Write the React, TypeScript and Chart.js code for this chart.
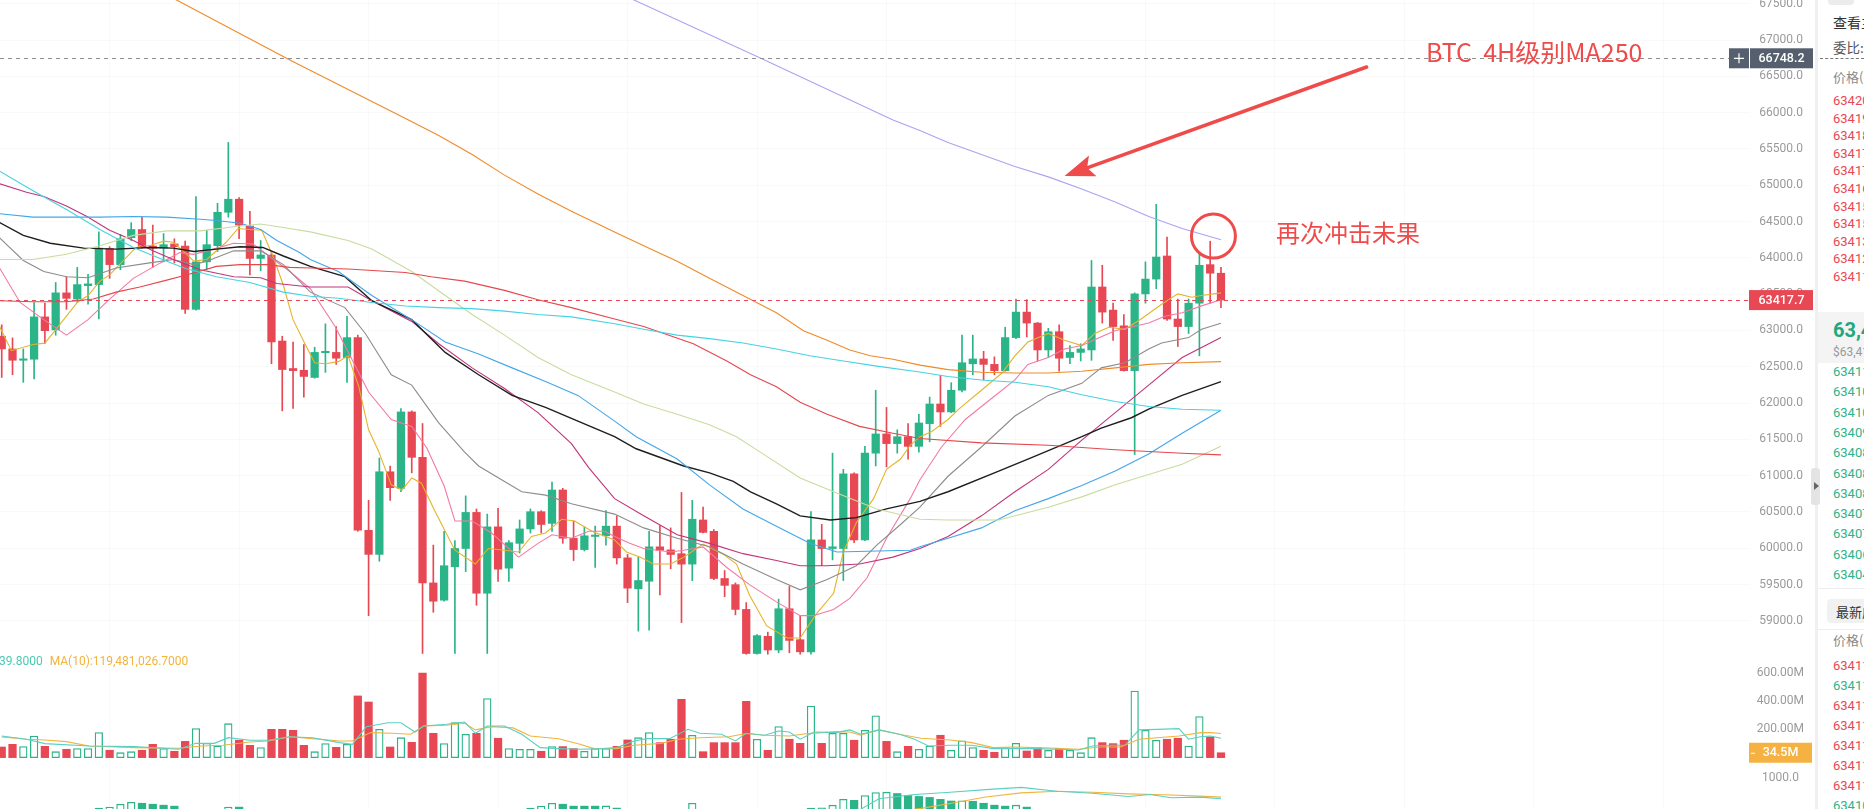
import React, { useEffect, useRef } from "react";
import { Chart, registerables } from "chart.js";

Chart.register(...registerables);

// ---------- candle data (4H BTC) ----------
const opens = [62920,62745,62589,62603,63186,63006,63517,63432,63617,63631,
64129,63906,64276,64390,64162,64134,64191,64162,63290,63944,
64167,64627,64807,64437,63991,64039,62854,62475,62451,62352,
62693,62697,62627,62901,60247,59915,61053,60825,61877,61252,
59522,59284,59744,59996,60493,59380,60294,59725,60067,60266,
60503,60342,60802,60138,59981,60162,60171,60304,59867,59441,
59545,60019,59977,59924,59781,60389,60233,59583,59498,59157,
58550,58787,58598,59166,58740,58573,60114,59996,59996,61024,
60114,61309,61574,61441,61536,61403,61716,61986,61877,62176,
62540,62607,62532,62446,62901,63252,63101,62731,62982,62627,
62697,62731,63598,63280,63063,62446,63503,63707,64025,63157,
63053,63375,63906,63788];
const highs = [63077,62897,62745,63385,63375,63660,63740,63868,63773,64357,
64153,64323,64485,64560,64451,64333,64262,64229,64845,64380,
64750,65589,64831,64641,64238,64072,62920,62840,62806,62768,
63091,63053,63195,62935,60659,61242,61133,61925,61892,61717,
60043,60233,60105,60721,60541,60470,60550,60105,60389,60541,
60517,60911,60825,60375,60294,60304,60517,60446,59915,59877,
60233,60313,60280,60768,60659,60565,60257,59693,59522,59251,
58811,58844,59299,59474,59071,60503,60328,61309,61086,61038,
61403,62176,61939,61631,61717,61843,62081,62380,62280,62935,
62935,62712,62636,63044,63432,63423,63110,63029,63077,62792,
62816,63963,63897,63375,63219,63517,63944,64736,64285,63432,
63432,64058,64229,63868];
const lows = [62352,62389,62285,62332,62822,62934,63290,63385,63361,63157,
63717,63835,64238,64134,63868,63944,63930,63233,63280,63835,
64086,64560,64262,63764,63821,62541,61892,61925,62081,62342,
62422,62531,62285,60233,59071,59821,60659,60778,61038,58550,
59118,59270,58550,59678,59214,58550,59544,59544,59934,60209,
60209,60233,60067,59830,59962,59735,60043,59782,59251,58858,
58872,59356,59716,58976,59554,60209,59568,59332,59082,58540,
58540,58540,58560,58560,58540,58540,59759,59839,59555,60076,
60105,61133,61119,61309,61228,61322,61465,61678,61868,62152,
62389,62319,62389,62437,62887,62910,62579,62626,62437,62541,
62579,62588,63101,62863,62437,61290,63375,63574,63138,62778,
62958,62650,63375,63314];
const closes = [62745,62589,62608,63186,62996,63517,63442,63631,63641,64134,
63906,64262,64390,64153,64134,64181,64153,63290,63944,64181,
64627,64807,64451,63991,64039,62840,62461,62446,62366,62697,
62712,62617,62901,60247,59915,61053,60834,61877,61252,59522,
59270,59759,59996,60493,59380,60294,59711,60076,60266,60503,
60327,60802,60138,59981,60171,60181,60304,59867,59450,59555,
60019,59972,59914,59781,60399,60218,59583,59488,59157,58550,
58796,58598,59166,58730,58573,60114,59996,60019,61024,60114,
61309,61574,61441,61536,61403,61725,61986,61877,62176,62555,
62607,62532,62446,62901,63252,63101,62731,62982,62617,62697,
62745,63598,63252,63053,62446,63503,63707,64011,63157,63053,
63375,63897,63788,63418];
// volume in millions
const volumes = [75,94,78,153,80,42,59,64,64,177,
52,35,42,52,94,64,45,115,205,101,
82,240,123,87,71,200,200,193,87,42,
99,73,94,436,393,200,75,141,108,598,
172,99,247,165,172,417,137,64,59,59,
45,78,78,64,45,64,64,80,125,141,
177,106,130,412,158,42,106,106,106,398,
130,52,219,130,101,365,101,172,172,123,
193,295,115,42,80,59,82,158,52,118,
71,52,38,71,101,47,71,52,64,52,
35,141,106,99,123,471,193,123,130,137,
82,290,146,34.5];

// ---------- moving averages: [candle index, price] ----------
const ma5Line = [[-0.2,63053],[0.9,62721],[2.9,62807],[4.0,62825],[5.1,63029],[7.0,63385],[8.0,63480],[9.1,63679],[10.0,63764],[12.2,64105],[12.8,64167],[13.7,64167],[15.0,64229],[15.9,64214],[16.8,64096],[17.8,63954],[19.0,63977],[20.8,64214],[21.9,64404],[23.0,64390],[24.1,64380],[25.2,64001],[26.1,63622],[27.0,63148],[28.1,62816],[29.0,62555],[30.0,62541],[31.2,62570],[32.1,62650],[33.1,62223],[34.0,61631],[34.9,61347],[36.1,60873],[37.1,60801],[38.0,60967],[38.9,60896],[40.2,60494],[42.0,59972],[43.9,59782],[45.1,59996],[46.6,59972],[47.9,59948],[49.1,60162],[50.4,60209],[51.9,60398],[53.1,60375],[54.7,60233],[56.8,60114],[57.9,59948],[59.2,59876],[60.4,59782],[62.0,59782],[63.2,59876],[65.0,60057],[66.9,59915],[68.1,59782],[69.3,59356],[70.9,58929],[72.8,58763],[74.0,58763],[75.5,59095],[77.1,59380],[78.0,59948],[79.2,60351],[80.8,60683],[82.0,61086],[83.3,61228],[84.2,61418],[85.1,61536],[86.2,61607],[87.7,61773],[88.7,61915],[90.8,62176],[92.7,62413],[93.9,62650],[95.1,62840],[97.0,62958],[98.5,62864],[100.1,62792],[101.3,62958],[102.6,63044],[104.1,63015],[105.6,63157],[107.5,63361],[109.0,63503],[110.3,63456],[111.2,63480],[113,63517]];
const ma10Line = [[-0.2,63859],[1.7,63385],[3.9,63148],[6.0,62935],[8.0,63148],[10.0,63432],[12.2,63717],[14.7,63930],[16.5,64072],[17.8,64048],[19.6,64120],[21.5,64200],[23.3,64191],[25.2,63977],[26.7,63811],[28.6,63574],[30.9,63053],[34.0,62152],[36.1,61773],[38.0,61678],[39.4,61380],[41.0,60860],[42.0,60375],[43.6,60375],[45.4,60209],[47.9,59877],[49.7,60067],[51.0,60185],[52.8,60138],[54.4,60233],[55.9,60233],[56.8,60162],[58.2,60067],[59.5,59996],[62.0,59948],[63.2,59972],[65.0,60019],[67.2,59735],[69.3,59498],[71.8,59261],[74.0,59071],[75.2,59071],[77.1,59157],[78.6,59308],[80.2,59593],[82.0,60138],[84.2,60683],[85.1,60944],[87.1,61394],[89.3,61773],[91.7,62058],[93.9,62318],[95.1,62532],[97.0,62626],[98.5,62745],[100.1,62792],[101.9,62911],[103.2,62996],[106.3,63101],[107.8,63195],[109.4,63243],[111.2,63338],[113,63423]];
const ma20Line = [[-0.2,64276],[2.0,63963],[3.9,63811],[6.0,63740],[8.0,63726],[10.6,63859],[13.7,63930],[15.9,63977],[17.8,63906],[19.0,63954],[21.5,64096],[24.0,64096],[26.1,63906],[28.6,63527],[31.8,63314],[33.7,62958],[36.1,62389],[38.0,62247],[40.5,61726],[42.9,61323],[44.2,61133],[46.6,60920],[48.2,60778],[50.4,60731],[52.8,60612],[56.8,60470],[59.5,60280],[62.6,60138],[65.6,60019],[68.7,59782],[71.8,59569],[74.0,59427],[76.5,59569],[79.2,59759],[81.1,60043],[83.3,60327],[85.1,60565],[87.7,60991],[90.8,61394],[93.9,61821],[97.0,62105],[100.1,62271],[101.9,62484],[104.1,62555],[106.3,62745],[107.5,62826],[110.0,62901],[111.2,63015],[113,63100]];
const ma30Line = [[-0.2,65020],[2.3,64902],[3.9,64845],[6.0,64712],[7.9,64570],[10.0,64380],[12.2,64238],[14.0,64096],[15.9,63977],[18.4,63835],[21.5,63740],[24.0,63726],[25.5,63646],[28.6,63598],[32.1,63598],[34.3,63409],[38.0,63124],[40.5,62816],[43.6,62484],[46.6,62200],[49.7,61868],[52.8,61441],[54.4,61110],[56.8,60683],[59.5,60446],[62.6,60185],[65.6,60067],[68.7,59925],[71.8,59830],[74.0,59759],[76.5,59759],[79.5,59782],[82.6,59877],[85.1,59996],[87.7,60162],[90.8,60446],[93.9,60778],[97.0,61086],[100.1,61489],[103.2,61868],[106.3,62247],[109.4,62626],[113,62901]];
const ma60Line = [[-0.2,64485],[2.0,64309],[4.5,64200],[7.6,64134],[10.6,64120],[13.7,64143],[15.9,64134],[17.8,64086],[19.9,64120],[22.1,64153],[24.2,64143],[26.1,64025],[28.6,63882],[31.8,63740],[34.3,63409],[38.0,63148],[41.1,62697],[44.2,62389],[47.3,62105],[50.4,61939],[53.4,61750],[56.8,61536],[58.8,61370],[63.2,61133],[65.6,61038],[67.8,60920],[69.4,60777],[71.8,60612],[74.0,60446],[76.8,60389],[79.2,60422],[82.0,60541],[85.1,60645],[87.7,60778],[92.4,61062],[95.5,61252],[100.1,61536],[101.9,61655],[104.7,61797],[106.3,61915],[109.4,62105],[113,62295]];
const ma90Line = [[-0.2,64608],[2.9,64560],[6.0,64560],[9.1,64560],[12.2,64570],[15.3,64560],[18.4,64532],[19.9,64513],[22.1,64475],[24.0,64390],[25.5,64238],[27.6,64072],[28.6,63977],[31.2,63811],[34.3,63480],[38.0,63148],[41.1,62840],[44.2,62674],[47.3,62484],[50.4,62295],[53.4,62105],[56.8,61750],[58.8,61536],[62.6,61228],[65.6,60873],[68.7,60541],[71.8,60304],[74.9,60067],[77.4,59948],[81.1,59962],[84.2,59972],[85.1,60019],[87.7,60138],[90.8,60280],[93.9,60517],[97.0,60683],[100.1,60863],[103.2,61062],[106.3,61299],[109.4,61583],[113,61901]];
const ma120Line = [[-0.2,63977],[2.9,63977],[6.0,64048],[9.1,64167],[12.2,64309],[15.3,64371],[18.4,64371],[21.5,64428],[24.0,64465],[26.1,64418],[28.6,64357],[32.1,64238],[34.3,64120],[38.0,63811],[41.1,63480],[43.6,63219],[46.6,62935],[49.7,62627],[52.8,62389],[56.8,62152],[59.5,61987],[62.6,61844],[65.6,61702],[68.1,61536],[70.3,61323],[74.0,60968],[77.1,60778],[81.1,60541],[85.1,60399],[87.7,60389],[92.4,60389],[97.0,60565],[100.1,60707],[103.2,60873],[106.3,61015],[109.4,61157],[113,61404]];
const ma150Line = [[-0.2,63409],[2.9,63394],[6.0,63394],[8.5,63432],[10.6,63527],[12.8,63598],[15.3,63693],[17.1,63764],[19.9,63882],[22.1,63906],[24.6,63906],[26.7,63868],[28.6,63859],[32.1,63845],[37.4,63797],[39.8,63740],[42.9,63679],[46.6,63551],[49.7,63423],[52.8,63314],[56.8,63157],[59.5,63053],[64.1,62816],[67.2,62579],[69.4,62389],[71.8,62223],[74.0,62010],[76.5,61844],[79.5,61678],[82.6,61584],[85.1,61512],[90.8,61451],[97.0,61418],[103.2,61356],[109.4,61309],[113,61285]];
const ma180Line = [[-0.2,65195],[2.9,64925],[6.0,64665],[9.1,64390],[12.2,64143],[15.3,63954],[17.1,63849],[19.9,63740],[23.0,63660],[26.1,63527],[28.6,63470],[31.2,63442],[34.3,63385],[37.4,63337],[40.5,63314],[43.6,63300],[46.6,63266],[49.7,63219],[52.8,63186],[56.8,63091],[59.5,63015],[62.6,62935],[65.6,62887],[68.7,62826],[71.8,62745],[74.9,62650],[78.0,62579],[81.1,62508],[85.1,62427],[87.7,62366],[90.8,62318],[93.9,62285],[97.0,62224],[100.1,62114],[103.2,62020],[106.3,61953],[109.4,61915],[113,61901]];
const ma200Line = [[12,67881],[16.2,67551],[26.7,66725],[37.7,65897],[40.5,65684],[43.6,65423],[46.6,65139],[49.7,64878],[52.8,64641],[56.8,64357],[59.5,64167],[62.6,63954],[65.6,63717],[68.7,63480],[71.8,63243],[74.3,62996],[76.5,62864],[78.6,62731],[80.5,62650],[82.6,62603],[85.1,62522],[87.7,62460],[90.8,62423],[93.9,62413],[97.0,62413],[100.1,62437],[103.2,62484],[106.3,62532],[109.4,62555],[113,62570]];
const ma250Line = [[55,67800],[58.6,67551],[70.3,66752],[82.6,65897],[85.1,65755],[87.7,65589],[90.8,65423],[93.9,65257],[97.0,65115],[100.1,64949],[103.2,64769],[106.3,64570],[109.4,64404],[113,64248]];

// ---------- volume moving averages (millions) ----------
const volMa5Line = [[0,153],[2.3,130],[4,99],[8.1,82],[12.3,78],[16.4,59],[18,101],[19.7,101],[21,141],[23,123],[24.7,123],[26.7,148],[28.8,141],[31.3,106],[32.5,94],[33.8,219],[35.8,247],[37,247],[38.3,181],[39.1,224],[41.2,236],[42.9,252],[43.9,172],[45,224],[46.6,224],[48.2,165],[49.9,71],[51.6,64],[53.6,59],[55.7,64],[57,71],[58.6,118],[59.8,134],[61.9,134],[63.6,200],[64.7,172],[66.7,165],[68,118],[69,172],[70.7,158],[72,188],[73,181],[74,130],[75.3,181],[77.3,177],[78.6,196],[79.6,165],[81.3,196],[83.2,165],[84.6,130],[85.9,82],[87.9,87],[89.9,87],[91.9,64],[93.8,64],[95.8,64],[97.8,59],[99.8,54],[101.1,82],[102.8,87],[104.1,87],[105.4,196],[107.1,200],[109.1,205],[110,130],[111.1,148],[112,153],[113,137]];
const volMa10Line = [[0,146],[2.3,130],[4,125],[6,113],[8.1,82],[12.3,71],[16.4,66],[18.5,82],[20.5,87],[23,111],[24.7,118],[26.7,148],[28.8,134],[31.3,118],[32.5,118],[34.2,177],[36.2,172],[37.9,165],[39.1,224],[41.2,229],[42.9,243],[43.9,196],[45.4,219],[47.4,210],[49,153],[51.6,134],[53.6,94],[54.9,64],[57,64],[58.6,87],[61.1,101],[62.7,130],[64.7,141],[67.4,148],[69,170],[70.7,158],[73,153],[74.7,170],[77.3,184],[78.6,181],[79.6,158],[81.3,196],[83.2,165],[85.2,137],[87.9,125],[89.9,106],[91.9,71],[93.8,75],[95.8,71],[97.8,66],[99.8,59],[101.8,75],[103.7,75],[105.4,130],[107.1,141],[109.1,153],[111.1,177],[112,177],[113,170]];

// ---------- lower indicator panel (only the visible tops) ----------
const indicatorBars = [[9,87],[10,117],[11,204],[12,262],[13,233],[14,204],[15,175],[16,146],[21,117],[22,117],[49,87],[50,146],[51,233],[52,204],[53,146],[54,146],[55,146],[56,152],[57,87],[64,233],[75,87],[76,95],[77,175],[78,350],[79,321],[80,466],[81,554],[82,565],[83,525],[84,466],[85,437],[86,408],[87,350],[88,300],[89,305],[90,292],[91,233],[92,175],[93,146],[94,175],[95,117]];
const indicatorFast = [[79.5,30],[81.3,370],[84.6,496],[87.9,563],[91.2,641],[94.5,708],[97.8,592],[101.1,534],[104.4,437],[106.4,496],[108.4,398],[111.1,418],[113,370]];
const indicatorSlow = [[83.5,0],[85.2,78],[87.9,224],[91.2,418],[94.5,544],[97.8,592],[101.1,563],[104.4,515],[107.7,486],[111.1,446],[113,418]];

// ---------- ticks & marks ----------
const priceTicks = [59000,59500,60000,60500,61000,61500,62000,62500,63000,63500,64000,64500,65000,65500,66000,66500,67000,67500];
const volumeTicks = [200,400,600];
const indicatorTicks = [1000];
const timeGridTicks = [4,16,28,40,52,64,76,88,100,112,124,136,148,160];
const markPrice = 66748.2;
const lastPrice = 63417.7;
const lastVolume = 34.5;
const volLegendMa5 = "39.8000";
const volLegendMa10 = "MA(10):119,481,026.7000";

// annotations (data coordinates: candle index, price)
const arrowTail = [126.5, 66628];
const arrowTip = [98.5, 65127];
const circleCenter = [112.3, 64300];
const noteTitle = { text: "BTC  4H级别MA250", at: [132.0, 66821] };
const noteFail = { text: "再次冲击未果", at: [118.1, 64342] };

// order book
const askPrices = ["63420.4","63419.8","63418.9","63417.9","63417.2","63416.5","63415.8","63415.1","63413.6","63412.7","63411.9"];
const bidPrices = ["63411.2","63410.6","63410.1","63409.5","63408.9","63408.4","63408.0","63407.6","63407.1","63406.3","63404.8"];
const tradePrices = ["63411.9","63411.8","63411.9","63411.9","63411.9","63411.9","63411.9","63410.8"];
const tradeSides = ["sell","buy","sell","sell","sell","sell","sell","buy"];

const GREEN = "#2cb489";
const RED = "#e84853";
const NOTE_RED = "#ef4b4b";
const FONT = "Roboto, 'Noto Sans', 'Noto Sans CJK SC', sans-serif";
const CJK = "'Noto Sans CJK SC', 'Noto Sans', sans-serif";

const maStyles = [
  { data: ma250Line, color: "#a9a4f0" },
  { data: ma200Line, color: "#ef8a2a" },
  { data: ma180Line, color: "#45d3e3" },
  { data: ma150Line, color: "#e5474d" },
  { data: ma120Line, color: "#c8dc9e" },
  { data: ma90Line, color: "#43a6ea" },
  { data: ma60Line, color: "#1e1e1e" },
  { data: ma30Line, color: "#c2337a" },
  { data: ma20Line, color: "#8c8c8c" },
  { data: ma10Line, color: "#f27aa8" },
  { data: ma5Line, color: "#e3b42c" },
];

const pts = (arr: number[][]) => arr.map(([x, y]) => ({ x, y }));

const overlayPlugin = {
  id: "overlay",
  afterDatasetsDraw(chart: any) {
    const { ctx, chartArea: a, scales } = chart;
    const xs = scales.x, ys = scales.y, yv = scales.yVol, yi = scales.yInd;
    const labelRight = a.right + 53;
    ctx.save();

    // dashed price lines
    const ym = ys.getPixelForValue(markPrice);
    ctx.setLineDash([4, 4]);
    ctx.lineWidth = 1;
    ctx.strokeStyle = "#8e8e8e";
    ctx.beginPath(); ctx.moveTo(a.left, Math.round(ym) + 0.5); ctx.lineTo(a.right - 21, Math.round(ym) + 0.5); ctx.stroke();
    const yl = ys.getPixelForValue(lastPrice);
    ctx.strokeStyle = RED;
    ctx.beginPath(); ctx.moveTo(a.left, Math.round(yl) + 0.5); ctx.lineTo(a.right - 2, Math.round(yl) + 0.5); ctx.stroke();
    ctx.setLineDash([]);

    // axis labels
    ctx.font = `12px ${FONT}`;
    ctx.fillStyle = "#9a9a9a";
    ctx.textAlign = "right";
    ctx.textBaseline = "middle";
    priceTicks.forEach((v) => ctx.fillText(v.toFixed(1), labelRight, ys.getPixelForValue(v)));
    volumeTicks.forEach((v) => ctx.fillText(`${v.toFixed(2)}M`, labelRight + 1, yv.getPixelForValue(v)));
    indicatorTicks.forEach((v) => ctx.fillText(v.toFixed(1), labelRight - 4, yi.getPixelForValue(v)));

    // mark price box
    ctx.fillStyle = "#555f6e";
    ctx.fillRect(a.right - 21, ym - 10, 20, 20);
    ctx.fillRect(a.right, ym - 10, 63, 20);
    ctx.strokeStyle = "#ffffff";
    ctx.lineWidth = 1.2;
    ctx.beginPath();
    ctx.moveTo(a.right - 16, ym); ctx.lineTo(a.right - 6, ym);
    ctx.moveTo(a.right - 11, ym - 5); ctx.lineTo(a.right - 11, ym + 5);
    ctx.stroke();
    ctx.fillStyle = "#ffffff";
    ctx.font = `500 12.5px ${FONT}`;
    ctx.textAlign = "center";
    ctx.fillText(markPrice.toFixed(1), a.right + 31.5, ym + 0.5);

    // last price box
    ctx.fillStyle = RED;
    ctx.fillRect(a.right - 1, yl - 10, 64, 20);
    ctx.fillStyle = "#ffffff";
    ctx.fillText(lastPrice.toFixed(1), a.right + 31.5, yl + 0.5);

    // last volume box
    const yvl = yv.getPixelForValue(lastVolume);
    ctx.fillStyle = "#f5b142";
    ctx.fillRect(a.right - 1, yvl - 10, 63, 20);
    ctx.fillStyle = "#ffffff";
    ctx.fillText(`${lastVolume}M`, a.right + 30.5, yvl + 0.5);
    ctx.strokeStyle = "#ffffff";
    ctx.lineWidth = 1;
    ctx.beginPath(); ctx.moveTo(a.right + 1, yvl + 0.5); ctx.lineTo(a.right + 5, yvl + 0.5); ctx.stroke();

    // volume legend
    ctx.font = `12px ${FONT}`;
    ctx.textAlign = "left";
    const legendY = yv.getPixelForValue(0) - 96;
    ctx.fillStyle = "#4cc9b4";
    ctx.fillText(volLegendMa5, -1, legendY);
    const w = ctx.measureText(volLegendMa5).width;
    ctx.fillStyle = "#f2b43c";
    ctx.fillText(volLegendMa10, w + 6, legendY);

    // arrow
    const tx = xs.getPixelForValue(arrowTail[0]), ty = ys.getPixelForValue(arrowTail[1]);
    const hx = xs.getPixelForValue(arrowTip[0]), hy = ys.getPixelForValue(arrowTip[1]);
    const len = Math.hypot(hx - tx, hy - ty);
    const ux = (hx - tx) / len, uy = (hy - ty) / len;
    const headLen = 30, headW = 11;
    const bx = hx - ux * headLen, by = hy - uy * headLen;
    ctx.strokeStyle = NOTE_RED;
    ctx.fillStyle = NOTE_RED;
    ctx.lineWidth = 3.5;
    ctx.lineCap = "round";
    ctx.beginPath(); ctx.moveTo(tx, ty); ctx.lineTo(bx + ux * 6, by + uy * 6); ctx.stroke();
    ctx.beginPath();
    ctx.moveTo(hx, hy);
    ctx.lineTo(bx - uy * headW, by + ux * headW);
    ctx.lineTo(bx + ux * 6, by + uy * 6);
    ctx.lineTo(bx + uy * headW, by - ux * headW);
    ctx.closePath();
    ctx.fill();

    // circle
    ctx.lineWidth = 3;
    ctx.beginPath();
    ctx.ellipse(xs.getPixelForValue(circleCenter[0]), ys.getPixelForValue(circleCenter[1]), 22, 22, 0, 0, Math.PI * 2);
    ctx.stroke();

    // notes
    ctx.textBaseline = "middle";
    ctx.font = `25px ${CJK}`;
    ctx.fillText(noteTitle.text, xs.getPixelForValue(noteTitle.at[0]), ys.getPixelForValue(noteTitle.at[1]));
    ctx.font = `24px ${CJK}`;
    ctx.fillText(noteFail.text, xs.getPixelForValue(noteFail.at[0]), ys.getPixelForValue(noteFail.at[1]));

    ctx.restore();
  },
};

function OrderBook() {
  const row = (top: number, color: string, size = 13, weight = 400): any => ({
    position: "absolute", left: 15, top: top - 9, height: 18, lineHeight: "18px",
    fontSize: size, fontWeight: weight, color, whiteSpace: "nowrap", fontFamily: FONT,
  });
  return (
    <div style={{ position: "absolute", left: 1818, top: 0, width: 46, height: 809, overflow: "hidden", background: "#fff" }}>
      <div style={{ position: "absolute", left: 10, top: -6, width: 26, height: 11, borderRadius: 4, background: "#ececec" }} />
      <div style={{ ...row(22, "#333", 14), fontFamily: CJK }}>查看主图</div>
      <div style={{ ...row(47, "#555", 13.5), fontFamily: CJK }}>委比: 12.5%</div>
      <div style={{ position: "absolute", left: 2, right: 0, top: 58, borderTop: "1px dashed #777" }} />
      <div style={{ ...row(77, "#8a8a8a", 13), fontFamily: CJK }}>价格(USDT)</div>
      {askPrices.map((p, k) => (
        <div key={"a" + k} style={row(101 + 17.6 * k, RED)}>{p}</div>
      ))}
      <div style={{ position: "absolute", left: 0, right: 0, top: 312, height: 51, background: "#f4f4f4" }} />
      <div style={row(330, "#22a77c", 20, 700)}>63,417.7</div>
      <div style={row(352, "#999", 12)}>$63,417.7</div>
      {bidPrices.map((p, k) => (
        <div key={"b" + k} style={row(372 + 20.3 * k, GREEN)}>{p}</div>
      ))}
      <div style={{ position: "absolute", left: 0, right: 0, top: 588, borderTop: "1px solid #eeeeee" }} />
      <div style={{ position: "absolute", left: 9, top: 599, width: 70, height: 24, borderRadius: 4, background: "#f1f1f1" }} />
      <div style={{ ...row(612, "#333", 13), left: 18, fontFamily: CJK }}>最新成交</div>
      <div style={{ position: "absolute", left: 0, right: 0, top: 629, borderTop: "1px solid #eeeeee" }} />
      <div style={{ ...row(640, "#8a8a8a", 13), fontFamily: CJK }}>价格(USDT)</div>
      {tradePrices.map((p, k) => (
        <div key={"t" + k} style={row(666 + 20 * k, tradeSides[k] === "buy" ? GREEN : RED)}>{p}</div>
      ))}
    </div>
  );
}

export default function App() {
  const canvasRef = useRef<HTMLCanvasElement | null>(null);

  useEffect(() => {
    const canvas = canvasRef.current;
    if (!canvas) return;
    const up = opens.map((o, i) => closes[i] >= o);
    const candleColor = (ctx: any) => (up[ctx.dataIndex] ? GREEN : RED);

    const indHollow = indicatorBars.map(([i, v], k) => {
      const prev = indicatorBars[k - 1];
      return !prev || prev[0] !== i - 1 || v > prev[1];
    });

    const datasets: any[] = [];
    maStyles.forEach((m) => {
      datasets.push({
        type: "line", data: pts(m.data), borderColor: m.color, borderWidth: m.color === "#1e1e1e" ? 1.4 : 1.1,
        pointRadius: 0, tension: 0, yAxisID: "y", order: 0, fill: false,
      });
    });
    datasets.push({
      type: "bar", data: opens.map((_, i) => ({ x: i, y: [lows[i], highs[i]] })),
      backgroundColor: candleColor, barThickness: 1, grouped: false, yAxisID: "y", order: 3,
    });
    datasets.push({
      type: "bar", data: opens.map((o, i) => ({ x: i, y: [o, closes[i]] })),
      backgroundColor: candleColor, barThickness: 7.6, minBarLength: 1, grouped: false, yAxisID: "y", order: 2,
    });
    datasets.push({
      type: "bar", data: volumes.map((v, i) => ({ x: i, y: v })),
      backgroundColor: (c: any) => (up[c.dataIndex] ? "#ffffff" : RED),
      borderColor: (c: any) => (up[c.dataIndex] ? GREEN : RED),
      borderWidth: (c: any) => (up[c.dataIndex] ? 1.3 : 0),
      borderSkipped: false, barThickness: 7.6, grouped: false, yAxisID: "yVol", order: 2,
    });
    datasets.push({ type: "line", data: pts(volMa5Line), borderColor: "#5bd0c2", borderWidth: 1.1, pointRadius: 0, yAxisID: "yVol", order: 0 });
    datasets.push({ type: "line", data: pts(volMa10Line), borderColor: "#f2b43c", borderWidth: 1.1, pointRadius: 0, yAxisID: "yVol", order: 0 });
    datasets.push({
      type: "bar", data: indicatorBars.map(([i, v]) => ({ x: i, y: v })),
      backgroundColor: (c: any) => (indHollow[c.dataIndex] ? "#ffffff" : GREEN),
      borderColor: GREEN, borderWidth: (c: any) => (indHollow[c.dataIndex] ? 1.3 : 0),
      borderSkipped: false, barThickness: 7.6, grouped: false, yAxisID: "yInd", order: 2,
    });
    datasets.push({ type: "line", data: pts(indicatorFast), borderColor: "#5bd0c2", borderWidth: 1.1, pointRadius: 0, yAxisID: "yInd", order: 0 });
    datasets.push({ type: "line", data: pts(indicatorSlow), borderColor: "#f2b43c", borderWidth: 1.1, pointRadius: 0, yAxisID: "yInd", order: 0 });

    const gridColor = "rgba(0,0,0,0.025)";
    const chart = new Chart(canvas, {
      type: "bar",
      data: { datasets },
      options: {
        animation: false,
        responsive: false,
        maintainAspectRatio: false,
        events: [],
        layout: { padding: { left: 0, right: 67, top: 0, bottom: 0 } },
        plugins: { legend: { display: false }, tooltip: { enabled: false } },
        scales: {
          x: {
            type: "linear", min: -0.16, max: 162.03, offset: false,
            grid: { color: gridColor, drawTicks: false },
            border: { display: false },
            ticks: { display: false },
            afterBuildTicks: (s: any) => { s.ticks = timeGridTicks.map((v) => ({ value: v })); },
          },
          y: {
            type: "linear", position: "left", min: 56408, max: 67551,
            grid: { color: gridColor, drawTicks: false },
            border: { display: false },
            ticks: { display: false },
            afterBuildTicks: (s: any) => { s.ticks = priceTicks.map((v) => ({ value: v })); },
          },
          yVol: { type: "linear", display: false, min: -363, max: 5354 },
          yInd: { type: "linear", display: false, min: 60, max: 24354 },
        },
      } as any,
      plugins: [overlayPlugin as any],
    });
    return () => chart.destroy();
  }, []);

  return (
    <div style={{ position: "fixed", left: 0, top: 0, width: 1864, height: 809, overflow: "hidden", background: "#ffffff", fontFamily: FONT }}>
      <canvas ref={canvasRef} width={1817} height={809} style={{ position: "absolute", left: 0, top: 0, width: 1817, height: 809 }} />
      <div style={{ position: "absolute", left: 1815, top: 0, width: 3, height: 809, background: "#f0f0f0" }} />
      <OrderBook />
      <div style={{ position: "absolute", left: 1811, top: 468, width: 9, height: 37, borderRadius: 3, background: "#e4e4e4" }}>
        <div style={{ position: "absolute", left: 3, top: 14, width: 0, height: 0, borderTop: "4px solid transparent", borderBottom: "4px solid transparent", borderLeft: "5px solid #666" }} />
      </div>
    </div>
  );
}
